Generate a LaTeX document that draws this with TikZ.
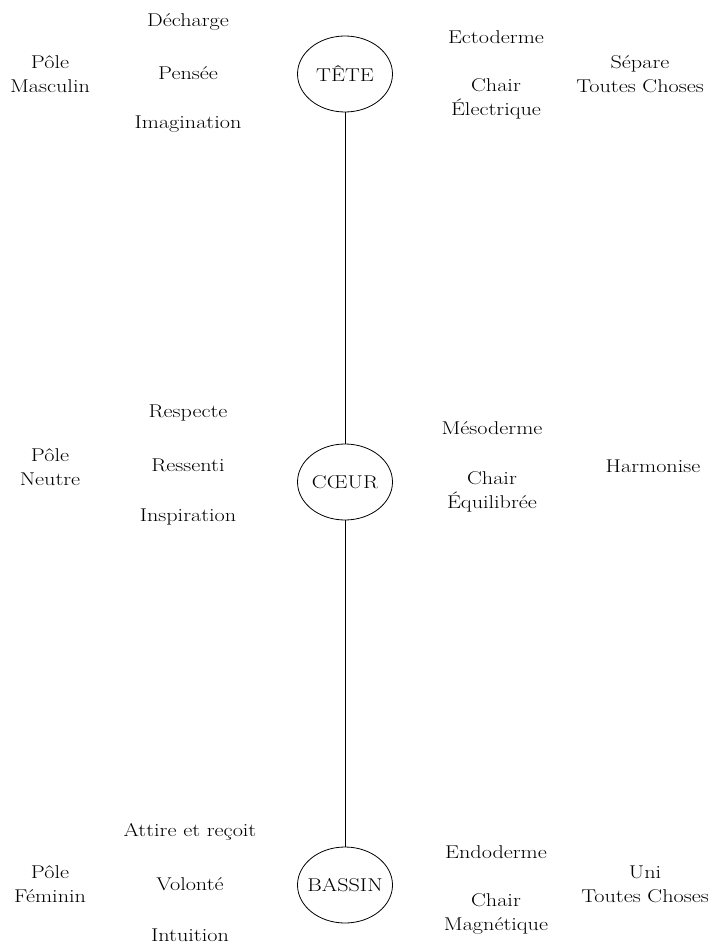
\documentclass[tikz,border=0pt]{standalone}
\usepackage{fontspec}
\setmainfont{Latin Modern Roman}[FakeStretch=1.2]
\usetikzlibrary{shapes.geometric}
\begin{document}
\begin{tikzpicture}[x=1pt,y=-1pt,
  lbl/.style={align=center,inner sep=0pt,font=\fontsize{18.5}{24}\selectfont},
  organ/.style={ellipse,draw,line width=0.8pt,minimum width=95pt,minimum height=76pt,inner xsep=-8pt,inner ysep=0pt,font=\fontsize{18.5}{24}\selectfont},
  link/.style={line width=0.8pt}]
\useasboundingbox (0,0) rectangle (708,944);
% organs
\node[organ] (tete) at (345,74) {TÊTE};
\node[organ] (coeur) at (345,482) {CŒUR};
\node[organ] (bassin) at (345,885) {BASSIN};
\draw[link] (tete) -- (coeur);
\draw[link] (coeur) -- (bassin);
% top row
\node[lbl] (pm) at (50,74) {Pôle\\Masculin};
\node[lbl] (dech) at (188,22) {Décharge};
\node[lbl] (pens) at (188,73) {Pensée};
\node[lbl] (imag) at (188,124) {Imagination};
\node[lbl] (ecto) at (496,37) {Ectoderme};
\node[lbl] (chel) at (496,99) {Chair\\Électrique};
\node[lbl] (sep) at (640,74) {Sépare\\Toutes Choses};
% middle row
\node[lbl] (pn) at (50,467) {Pôle\\Neutre};
\node[lbl] (resp) at (188,413) {Respecte};
\node[lbl] (ress) at (188,465) {Ressenti};
\node[lbl] (insp) at (188,517) {Inspiration};
\node[lbl] (meso) at (492,428) {Mésoderme};
\node[lbl] (cheq) at (492,492) {Chair\\Équilibrée};
\node[lbl] (harm) at (653,466) {Harmonise};
% bottom row
\node[lbl] (pf) at (50,884) {Pôle\\Féminin};
\node[lbl] (attr) at (190,832) {Attire et reçoit};
\node[lbl] (volo) at (190,884) {Volonté};
\node[lbl] (intu) at (190,935) {Intuition};
\node[lbl] (endo) at (496,852) {Endoderme};
\node[lbl] (chma) at (496,914) {Chair\\Magnétique};
\node[lbl] (uni) at (645,884) {Uni\\Toutes Choses};
\end{tikzpicture}
\end{document}
